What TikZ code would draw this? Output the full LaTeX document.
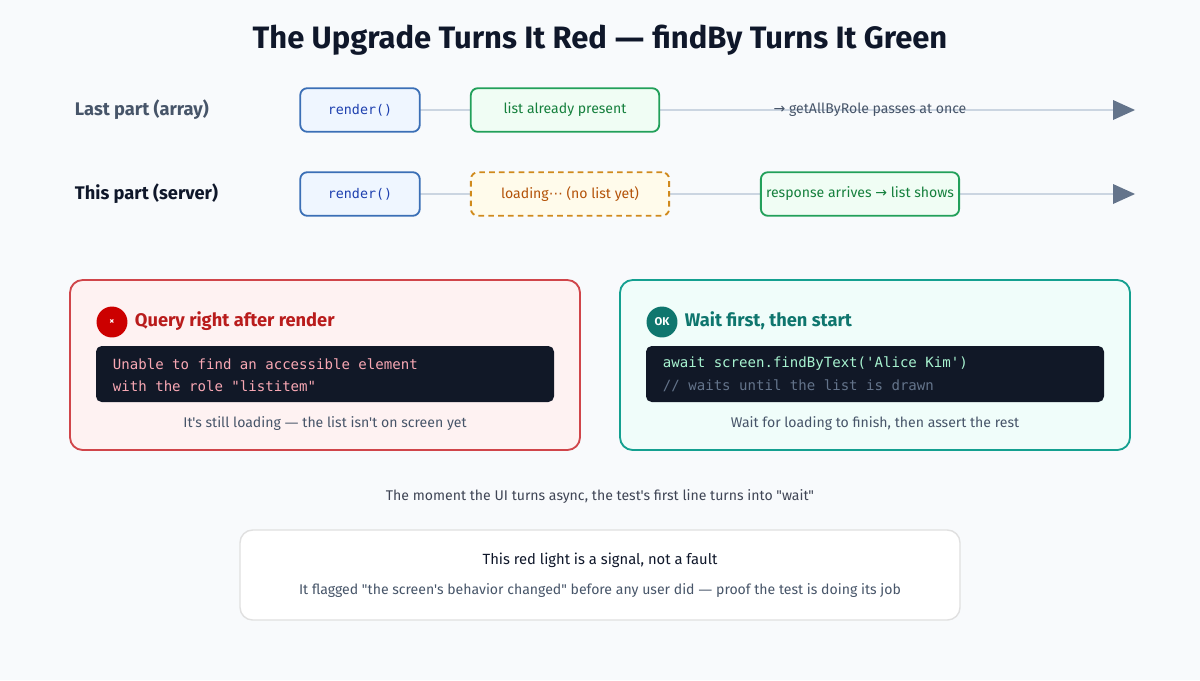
\documentclass[tikz,border=0pt]{standalone}
\usepackage{fontspec}
\setmainfont{Fira Sans}[Ligatures=TeXOff]
\setmonofont{DejaVu Sans Mono}
\newfontfamily\symfont{DejaVu Sans}
\usetikzlibrary{positioning}
\definecolor{bgc}{HTML}{F8FAFC}
\definecolor{ink}{HTML}{0F172A}
\definecolor{slate}{HTML}{475569}
\definecolor{muted}{HTML}{64748B}
\definecolor{rail}{HTML}{CBD5E1}
\definecolor{blueln}{HTML}{3B6FB6}
\definecolor{bluebg}{HTML}{EFF6FF}
\definecolor{blueink}{HTML}{1E40AF}
\definecolor{grnln}{HTML}{22A05A}
\definecolor{grnbg}{HTML}{F0FDF4}
\definecolor{grnink}{HTML}{15803D}
\definecolor{orgln}{HTML}{D08A1C}
\definecolor{orgbg}{HTML}{FFFBEB}
\definecolor{orgink}{HTML}{B45309}
\definecolor{redln}{HTML}{D0454A}
\definecolor{redbg}{HTML}{FEF2F2}
\definecolor{redink}{HTML}{B91C1C}
\definecolor{tealln}{HTML}{14A090}
\definecolor{tealbg}{HTML}{F0FDFA}
\definecolor{tealink}{HTML}{0F766E}
\definecolor{codebg}{HTML}{111827}
\definecolor{codepink}{HTML}{F9A8B4}
\definecolor{codemint}{HTML}{A7F3D0}
\tikzset{
  stagebox/.style={rounded corners=5pt, line width=1.3pt, minimum height=31pt, font=\fontsize{10}{12}\selectfont},
  codestage/.style={stagebox, draw=blueln, fill=bluebg, text=blueink, minimum width=85pt, font=\ttfamily\fontsize{9.5}{12}\selectfont},
  okstage/.style={stagebox, draw=grnln, fill=grnbg, text=grnink},
  waitstage/.style={stagebox, draw=orgln, fill=orgbg, text=orgink, dashed, dash pattern=on 4pt off 3pt},
  rowlabel/.style={anchor=west, font=\bfseries\fontsize{13}{15}\selectfont},
  panel/.style={rounded corners=9pt, line width=1.3pt},
  codebox/.style={rounded corners=4pt, fill=codebg, draw=none},
  codeline/.style={anchor=west, font=\ttfamily\fontsize{10}{12}\selectfont},
  caption/.style={font=\fontsize{10}{12}\selectfont, text=slate},
}
\begin{document}
\begin{tikzpicture}[x=0.025cm, y=-0.025cm]
\fill[bgc] (0,0) rectangle (1200,680);
\node[font=\bfseries\fontsize{22}{25}\selectfont, text=ink] (title) at (600,40) {The Upgrade Turns It Red {\symfont —} findBy Turns It Green};

% row 1
\node[rowlabel, text=slate] (lbla) at (70,110) {Last part (array)};
\coordinate (enda) at (1115,110);
\draw[rail, line width=1.3pt] (420,110) -- (enda);
\fill[muted] (enda) ++(-2,-10) -- ++(22,10) -- ++(-22,10) -- cycle;
\node[codestage] (renda) at (360,110) {render()};
\node[okstage, minimum width=134pt] (lista) at (565,110) {list already present};
\node[caption] (passa) at (870,110) {{\symfont →} getAllByRole passes at once};

% row 2
\node[rowlabel, text=ink] (lblb) at (70,194) {This part (server)};
\coordinate (endb) at (1115,194);
\draw[rail, line width=1.3pt] (420,194) -- (endb);
\fill[muted] (endb) ++(-2,-10) -- ++(22,10) -- ++(-22,10) -- cycle;
\node[codestage] (rendb) at (360,194) {render()};
\node[waitstage, minimum width=141pt] (loadb) at (570,194) {loading{\symfont ⋯} (no list yet)};
\node[okstage, minimum width=141pt, inner sep=1pt] (respb) at (860,194) {response arrives {\symfont →} list shows};

% red panel
\draw[panel, draw=redln, fill=redbg] (70,280) rectangle (580,450);
\node[circle, fill=red!80!black, minimum size=22pt, inner sep=0pt, text=white, font=\bfseries\fontsize{7}{8}\selectfont] (bad) at (112,322) {×};
\node[anchor=west, text=redink, font=\bfseries\fontsize{13}{15}\selectfont] (badt) at (130,321) {Query right after render};
\draw[codebox] (96,346) rectangle (554,402);
\node[codeline, text=codepink] (err1) at (108,364) {Unable to find an accessible element};
\node[codeline, text=codepink] (err2) at (108,386) {with the role "listitem"};
\node[caption] (badc) at (325,424) {It's still loading {\symfont —} the list isn't on screen yet};

% teal panel
\draw[panel, draw=tealln, fill=tealbg] (620,280) rectangle (1130,450);
\node[circle, fill=tealink, minimum size=22pt, inner sep=0pt, text=white, font=\bfseries\fontsize{8}{9}\selectfont] (good) at (662,322) {OK};
\node[anchor=west, text=tealink, font=\bfseries\fontsize{13}{15}\selectfont] (goodt) at (680,321) {Wait first, then start};
\draw[codebox] (646,346) rectangle (1104,402);
\node[codeline, text=codemint] (ok1) at (658,364) {await screen.findByText('Alice Kim')};
\node[codeline, text=muted] (ok2) at (658,386) {// waits until the list is drawn};
\node[caption] (goodc) at (875,424) {Wait for loading to finish, then assert the rest};

% bottom
\node[caption, text=ink!80] (note) at (600,496) {The moment the UI turns async, the test's first line turns into "wait"};
\draw[rounded corners=9pt, line width=1pt, draw=black!12, fill=white] (240,530) rectangle (960,620);
\node[font=\fontsize{10.5}{12}\selectfont, text=ink] (sig) at (600,560) {This red light is a signal, not a fault};
\node[caption] (sigc) at (600,590) {It flagged "the screen's behavior changed" before any user did {\symfont —} proof the test is doing its job};
\end{tikzpicture}
\end{document}
